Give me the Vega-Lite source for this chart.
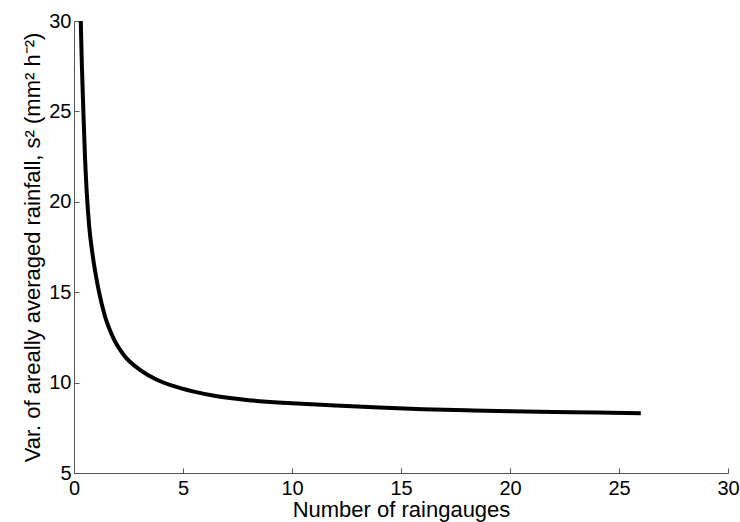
{
  "$schema": "https://vega.github.io/schema/vega-lite/v6.json",
  "width": 654,
  "height": 452,
  "autosize": {"type": "none"},
  "padding": {"left": 74, "top": 21, "right": 12, "bottom": 49},
  "background": "white",
  "config": {
    "view": {"stroke": null},
    "font": "Liberation Sans",
    "axis": {
      "grid": false,
      "domainColor": "#555555",
      "tickColor": "#555555",
      "tickSize": -5,
      "labelFont": "Liberation Sans",
      "titleFont": "Liberation Sans",
      "labelFontSize": 20,
      "titleFontSize": 22,
      "labelColor": "black",
      "titleColor": "black",
      "titleFontWeight": "normal"
    }
  },
  "data": {
    "values": [
      {"n": 0.31, "v": 30},
      {"n": 0.36, "v": 27.6},
      {"n": 0.43, "v": 25},
      {"n": 0.5, "v": 22.6},
      {"n": 0.58, "v": 20.6},
      {"n": 0.7, "v": 18.6},
      {"n": 0.85, "v": 17.1},
      {"n": 1.0, "v": 15.95},
      {"n": 1.15, "v": 15.0},
      {"n": 1.4, "v": 13.75},
      {"n": 1.83, "v": 12.4},
      {"n": 2.3, "v": 11.5},
      {"n": 3.06, "v": 10.68},
      {"n": 3.8, "v": 10.16},
      {"n": 4.5, "v": 9.83},
      {"n": 5.5, "v": 9.5},
      {"n": 6.5, "v": 9.26},
      {"n": 8, "v": 9.03},
      {"n": 10, "v": 8.86},
      {"n": 12, "v": 8.73},
      {"n": 14, "v": 8.62},
      {"n": 16, "v": 8.53},
      {"n": 18, "v": 8.47},
      {"n": 20, "v": 8.42},
      {"n": 22, "v": 8.38},
      {"n": 24, "v": 8.34},
      {"n": 26, "v": 8.31}
    ]
  },
  "mark": {"type": "line", "color": "black", "strokeWidth": 4, "interpolate": "monotone", "clip": true},
  "encoding": {
    "x": {
      "field": "n",
      "type": "quantitative",
      "scale": {"domain": [0, 30], "nice": false, "zero": false},
      "axis": {"values": [0, 5, 10, 15, 20, 25, 30], "title": "Number of raingauges", "labelPadding": 10, "titlePadding": 1, "labelFlush": false}
    },
    "y": {
      "field": "v",
      "type": "quantitative",
      "scale": {"domain": [5, 30], "nice": false, "zero": false},
      "axis": {"values": [5, 10, 15, 20, 25, 30], "title": "Var. of areally averaged rainfall, s² (mm² h⁻²)", "labelPadding": 8, "titlePadding": 4, "labelFlush": false}
    }
  }
}
